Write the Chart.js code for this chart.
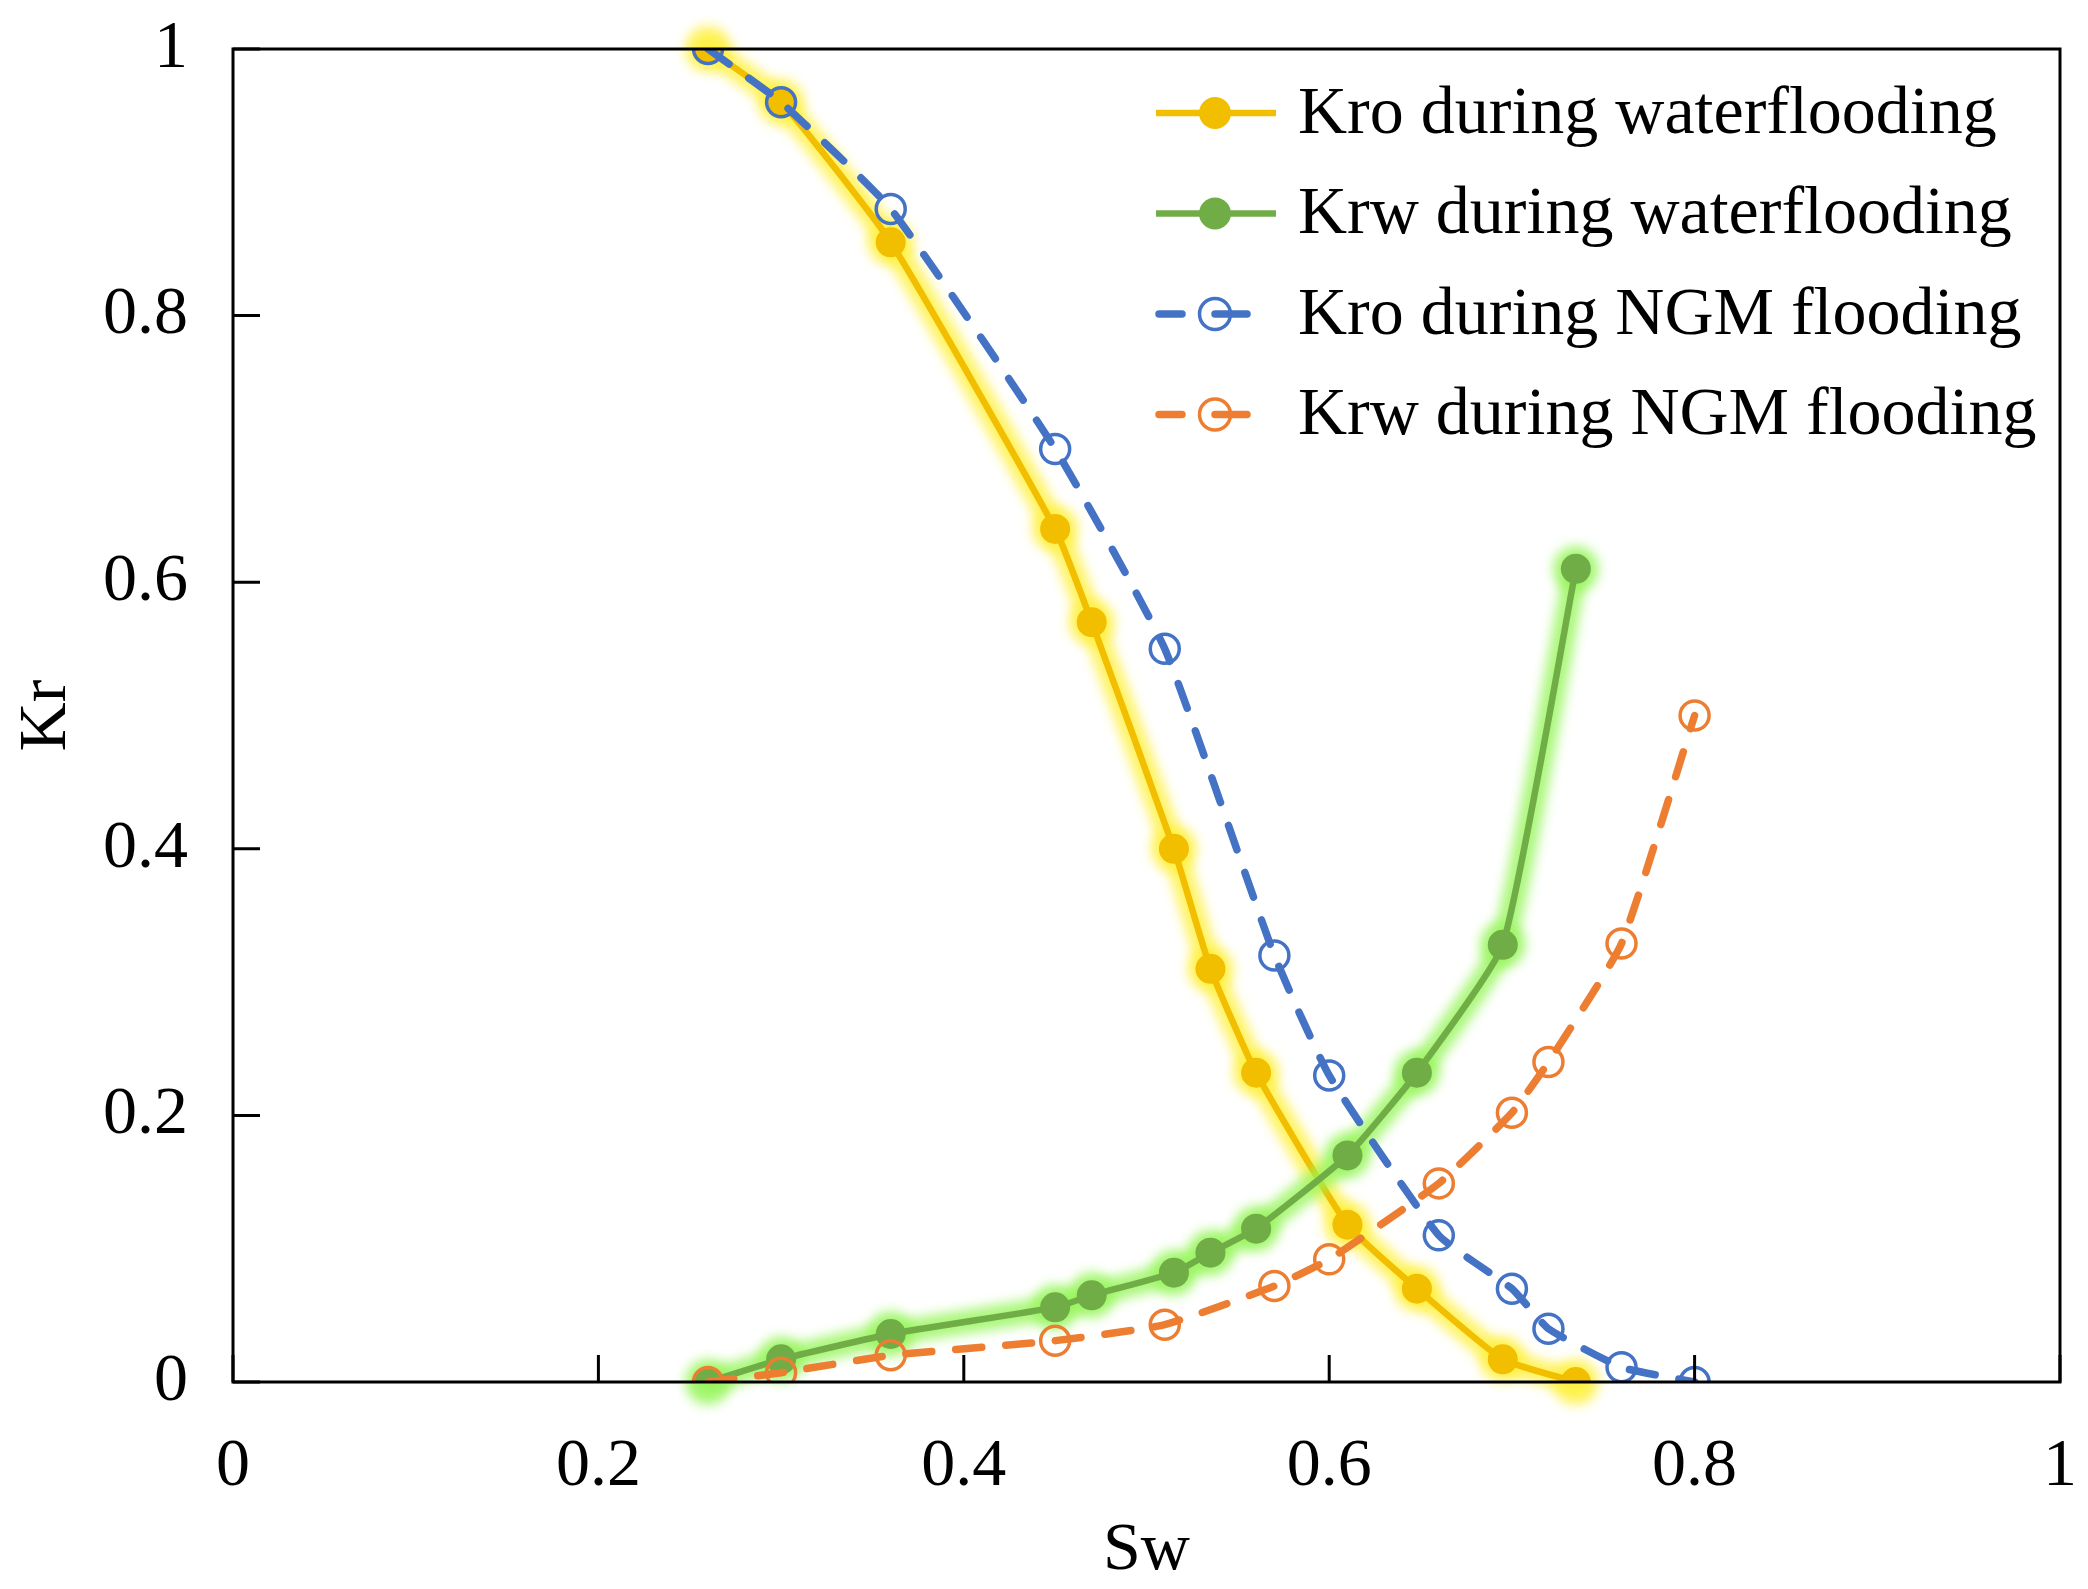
<!DOCTYPE html>
<html>
<head>
<meta charset="utf-8">
<script src="https://cdn.jsdelivr.net/npm/chart.js@4.4.1/dist/chart.umd.min.js"></script>
<style>
  html, body { margin: 0; padding: 0; background: #fff; overflow: hidden; }
</style>
</head>
<body>
<canvas id="krChart" width="2088" height="1610"></canvas>
<script>
// Sw values for each test
const swWater = [0.26, 0.30, 0.36, 0.45, 0.47, 0.515, 0.535, 0.56, 0.61, 0.648, 0.695, 0.735];
const swNgm = [0.26, 0.30, 0.36, 0.45, 0.51, 0.57, 0.60, 0.66, 0.70, 0.72, 0.76, 0.80];

// relative permeabilities
const kroWater = [1.0, 0.96, 0.855, 0.64, 0.57, 0.40, 0.31, 0.232, 0.118, 0.07, 0.017, 0.0];
const krwWater = [0.0, 0.017, 0.036, 0.056, 0.065, 0.082, 0.097, 0.115, 0.17, 0.232, 0.328, 0.61];
const kroNgm = [1.0, 0.96, 0.88, 0.70, 0.55, 0.32, 0.23, 0.11, 0.07, 0.04, 0.011, 0.0];
const krwNgm = [0.0, 0.007, 0.02, 0.031, 0.043, 0.072, 0.092, 0.149, 0.202, 0.24, 0.329, 0.50];

const seriesNames = ['Kro during waterflooding', 'Krw during waterflooding',
                     'Kro during NGM flooding', 'Krw during NGM flooding'];
const axisTicks = [0, 0.2, 0.4, 0.6, 0.8, 1];

const FONT = "'Liberation Serif', 'Times New Roman', serif";

function pts(xs, ys) {
    return xs.map((x, i) => ({ x: x, y: ys[i] }));
}

// soft glow behind the waterflooding curves
const glowPlugin = {
    id: 'glow',
    beforeDatasetDraw(chart, args) {
        const ds = chart.data.datasets[args.index];
        if (!ds.glowColor) return;
        const meta = args.meta;
        const ctx = chart.ctx;
        ctx.save();
        ctx.filter = 'blur(6px)';
        ctx.strokeStyle = ds.glowColor;
        ctx.fillStyle = ds.glowColor;
        ctx.lineWidth = 24;
        ctx.lineJoin = 'round';
        ctx.lineCap = 'round';
        ctx.beginPath();
        if (meta.dataset && typeof meta.dataset.path === 'function') {
            meta.dataset.path(ctx);
        } else {
            meta.data.forEach((p, j) => j ? ctx.lineTo(p.x, p.y) : ctx.moveTo(p.x, p.y));
        }
        ctx.stroke();
        meta.data.forEach(p => {
            ctx.beginPath();
            ctx.arc(p.x, p.y, ds.pointRadius + 8, 0, Math.PI * 2);
            ctx.fill();
        });
        ctx.restore();
    }
};

// box around plot + inward ticks
const framePlugin = {
    id: 'frame',
    afterDraw(chart) {
        const { ctx, chartArea: a, scales } = chart;
        ctx.save();
        ctx.strokeStyle = '#000';
        ctx.lineWidth = 3;
        ctx.strokeRect(a.left, a.top, a.right - a.left, a.bottom - a.top);
        const len = 27;
        ctx.beginPath();
        axisTicks.forEach(v => {
            const px = scales.x.getPixelForValue(v);
            ctx.moveTo(px, a.bottom);
            ctx.lineTo(px, a.bottom - len);
            const py = scales.y.getPixelForValue(v);
            ctx.moveTo(a.left, py);
            ctx.lineTo(a.left + len, py);
        });
        ctx.stroke();
        ctx.restore();
    }
};

// legend: line sample with marker, text to the right
const legendPlugin = {
    id: 'customLegend',
    afterDraw(chart) {
        const ctx = chart.ctx;
        const x0 = 1156, textX = 1298, y0 = 113, rowH = 100.5;
        ctx.save();
        chart.data.datasets.forEach((ds, i) => {
            const y = y0 + i * rowH;
            const dashed = ds.borderDash && ds.borderDash.length;
            const x1 = dashed ? 1250 : 1276;
            const mx = 1215;
            ctx.strokeStyle = ds.borderColor;
            ctx.lineWidth = ds.borderWidth;
            ctx.lineCap = dashed ? 'round' : 'butt';
            ctx.beginPath();
            if (dashed) {
                ctx.moveTo(x0 + 3, y); ctx.lineTo(x0 + 26, y);
                ctx.moveTo(mx, y); ctx.lineTo(x1 - 3, y);
            } else {
                ctx.moveTo(x0, y); ctx.lineTo(x1, y);
            }
            ctx.stroke();
            ctx.beginPath();
            ctx.arc(mx, y, ds.pointRadius + 1, 0, Math.PI * 2);
            if (ds.pointBackgroundColor !== 'rgba(0,0,0,0)') {
                ctx.fillStyle = ds.pointBackgroundColor;
                ctx.fill();
            } else {
                ctx.lineWidth = ds.pointBorderWidth;
                ctx.strokeStyle = ds.pointBorderColor;
                ctx.stroke();
            }
            ctx.fillStyle = '#000';
            ctx.font = '68px ' + FONT;
            ctx.textBaseline = 'middle';
            ctx.textAlign = 'left';
            ctx.fillText(ds.label, textX, y + 2);
        });
        ctx.restore();
    }
};

const tickText = (v) => String(Math.round(v * 10) / 10);

new Chart(document.getElementById('krChart').getContext('2d'), {
    type: 'line',
    data: {
        datasets: [{
            label: seriesNames[0],
            data: pts(swWater, kroWater),
            borderColor: '#F2BE00',
            borderWidth: 6.5,
            pointRadius: 15,
            pointBackgroundColor: '#F2BE00',
            pointBorderColor: '#F2BE00',
            pointBorderWidth: 0,
            glowColor: 'rgba(255, 240, 60, 0.8)',
            tension: 0.15,
            order: 4
        }, {
            label: seriesNames[1],
            data: pts(swWater, krwWater),
            borderColor: '#70AD47',
            borderWidth: 6.5,
            pointRadius: 15,
            pointBackgroundColor: '#70AD47',
            pointBorderColor: '#70AD47',
            pointBorderWidth: 0,
            glowColor: 'rgba(150, 245, 90, 0.8)',
            tension: 0.15,
            order: 3
        }, {
            label: seriesNames[2],
            data: pts(swNgm, kroNgm),
            borderColor: '#4472C4',
            borderWidth: 7.5,
            borderDash: [26, 24],
            borderCapStyle: 'round',
            pointRadius: 14.5,
            pointBackgroundColor: 'rgba(0,0,0,0)',
            pointBorderColor: '#4472C4',
            pointBorderWidth: 3.5,
            tension: 0.15,
            order: 2
        }, {
            label: seriesNames[3],
            data: pts(swNgm, krwNgm),
            borderColor: '#ED7D31',
            borderWidth: 7.5,
            borderDash: [26, 24],
            borderCapStyle: 'round',
            pointRadius: 14.5,
            pointBackgroundColor: 'rgba(0,0,0,0)',
            pointBorderColor: '#ED7D31',
            pointBorderWidth: 3.5,
            tension: 0.15,
            order: 1
        }]
    },
    options: {
        responsive: false,
        animation: false,
        devicePixelRatio: 1,
        layout: { padding: { top: 49, right: 28, left: 6, bottom: 0 } },
        scales: {
            x: {
                type: 'linear',
                min: 0,
                max: 1,
                afterBuildTicks: (s) => { s.ticks = axisTicks.map(v => ({ value: v })); },
                afterFit: (s) => { s.height = 228; s.paddingLeft = 0; s.paddingRight = 0; },
                grid: { display: false, drawTicks: false },
                border: { display: false },
                ticks: {
                    padding: 44,
                    color: '#000',
                    font: { family: FONT, size: 68 },
                    callback: tickText
                },
                title: {
                    display: true,
                    text: 'Sw',
                    color: '#000',
                    font: { family: FONT, size: 68 },
                    padding: { top: 0, bottom: 18 }
                }
            },
            y: {
                min: 0,
                max: 1,
                afterBuildTicks: (s) => { s.ticks = axisTicks.map(v => ({ value: v })); },
                afterFit: (s) => { s.width = 227; s.paddingTop = 0; s.paddingBottom = 0; },
                grid: { display: false, drawTicks: false },
                border: { display: false },
                ticks: {
                    padding: 45,
                    color: '#000',
                    font: { family: FONT, size: 68 },
                    callback: tickText
                },
                title: {
                    display: true,
                    text: 'Kr',
                    color: '#000',
                    font: { family: FONT, size: 68 },
                    padding: { top: 0, bottom: 0 }
                }
            }
        },
        plugins: {
            legend: { display: false },
            tooltip: { enabled: false }
        }
    },
    plugins: [glowPlugin, framePlugin, legendPlugin]
});
</script>
</body>
</html>
